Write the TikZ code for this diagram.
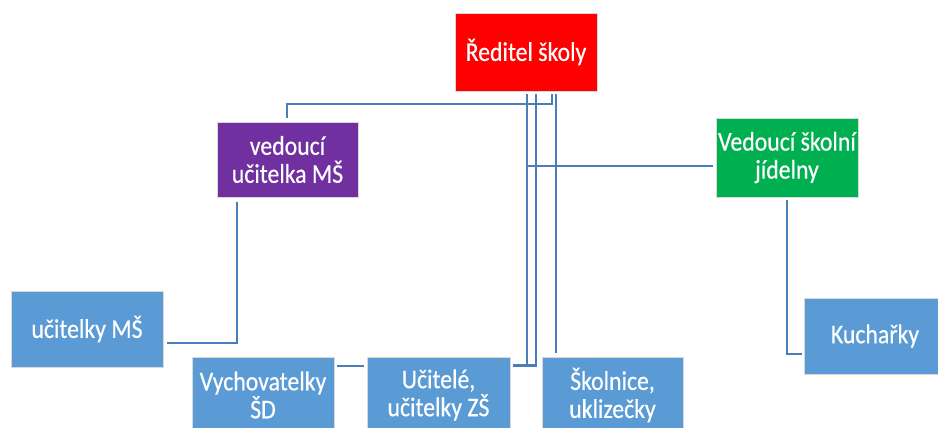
\documentclass[tikz,border=0pt]{standalone}
\usepackage{fontspec}
\setmainfont{Carlito}[FakeStretch=0.88, FakeBold=0.4]
\usetikzlibrary{calc}
\definecolor{boxblue}{RGB}{91,155,213}
\definecolor{boxred}{RGB}{255,0,0}
\definecolor{boxpurple}{RGB}{112,48,160}
\definecolor{boxgreen}{RGB}{0,176,80}
\definecolor{linkblue}{RGB}{74,126,187}
\tikzset{
  box/.style={draw=white!85!black, line width=0.6pt, text=white, align=center,
    inner sep=0pt, font=\fontsize{27}{28}\selectfont},
  conn/.style={draw=linkblue, line width=2.2pt}
}
\begin{document}
\begin{tikzpicture}[x=1pt,y=-1pt]
\clip (0,0) rectangle (938,428);
\fill[white] (0,0) rectangle (938,428);
% boxes
\node[box, fill=boxred, minimum width=142, minimum height=78] (dir) at (526,52) {Ředitel školy};
\node[box, fill=boxpurple, minimum width=141, minimum height=75] (vum) at (287.5,159.5) {vedoucí\\učitelka MŠ};
\node[box, fill=boxgreen, minimum width=142, minimum height=79] (vsj) at (787,157.5) {Vedoucí školní\\jídelny};
\node[box, fill=boxblue, minimum width=152, minimum height=76] (ums) at (87,329) {učitelky MŠ};
\node[box, fill=boxblue, minimum width=142, minimum height=76] (kuch) at (875,336) {Kuchařky};
\node[box, fill=boxblue, minimum width=142, minimum height=76] (vych) at (263,395) {Vychovatelky\\ŠD};
\node[box, fill=boxblue, minimum width=143, minimum height=76] (ucit) at (438.5,395) {Učitelé,\\učitelky ZŠ};
\node[box, fill=boxblue, minimum width=141, minimum height=76] (skol) at (612.5,395) {Školnice,\\uklizečky};
% connectors
\coordinate (d527) at ($(dir.south -| 527,0)+(0,3)$);
\coordinate (d536) at ($(dir.south -| 536,0)+(0,3)$);
\coordinate (d552) at ($(dir.south -| 552,0)+(0,3)$);
\coordinate (d556) at ($(dir.south -| 556,0)+(0,3)$);
\draw[conn] ($(vum.north -| 287,0)+(0,-4)$) |- (552,104) -- (d552);
\draw[conn] (d527) -- (527,365.5) -- ($(ucit.east |- 0,365.5)+(3,0)$);
\draw[conn] (d536) -- (536,365.5) -- (527,365.5);
\draw[conn] (d556) -- ($(skol.north -| 556,0)+(0,-4)$);
\draw[conn] ($(vsj.west)+(-3,8.5)$) -- (527,166);
\draw[conn] ($(vsj.south -| 787,0)+(0,3)$) |- ($(kuch.west |- 0,354)+(-2,0)$);
\draw[conn] ($(vum.south -| 237,0)+(0,5)$) |- ($(ums.east |- 0,343)+(4,0)$);
\draw[conn] ($(vych.east |- 0,366)+(3,0)$) -- ($(ucit.west |- 0,366)+(-3,0)$);
\end{tikzpicture}
\end{document}
